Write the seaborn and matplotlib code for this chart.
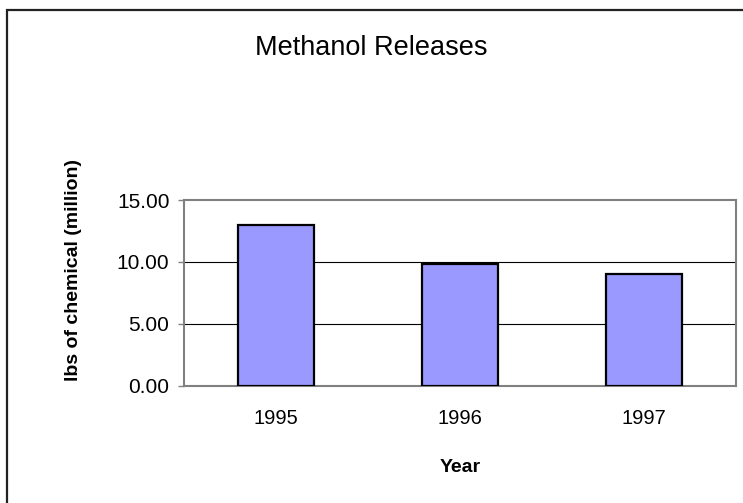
import matplotlib
matplotlib.use("Agg")
import matplotlib.pyplot as plt
import seaborn as sns
import pandas as pd
from matplotlib.patches import Rectangle

years = ["1995", "1996", "1997"]
releases = [13.0, 9.8, 9.0]
y_ticks = [0, 5, 10, 15]
y_tick_labels = ["0.00", "5.00", "10.00", "15.00"]

sns.set_theme(style="white")
plt.rcParams["font.family"] = ["Liberation Sans", "DejaVu Sans"]
plt.rcParams["text.color"] = "black"

W, H = 743, 503
fig = plt.figure(figsize=(W / 100, H / 100), dpi=100)
fig.patch.set_facecolor("white")

# chart frame (runs off the right and bottom edges)
fig.add_artist(Rectangle((7.5 / W, -0.1), 1.2, (H - 10) / H + 0.1,
                         transform=fig.transFigure, fill=False,
                         edgecolor="#222222", linewidth=1.6))

left, right, top, bottom = 184, 736, 200, 385.7
ax = fig.add_axes([left / W, (H - bottom) / H, (right - left) / W, (bottom - top) / H])

df = pd.DataFrame({"Year": years, "Releases": releases})
sns.barplot(data=df, x="Year", y="Releases", ax=ax, color="#9999FF",
            saturation=1, width=0.41, edgecolor="black", linewidth=1.6, zorder=3)

ax.set_ylim(0, 15)
ax.set_xlim(-0.5, 2.5)
ax.set_yticks(y_ticks)
ax.set_yticklabels(y_tick_labels, fontsize=15, color="black")
ax.tick_params(axis="x", labelsize=14.5, colors="black", length=0, pad=17)
ax.tick_params(axis="y", length=4, width=1, color="#808080", direction="out",
               left=True, pad=6.5)

for v in y_ticks[1:-1]:
    ax.axhline(v, color="black", linewidth=0.8, zorder=1)

for s in ax.spines.values():
    s.set_visible(True)
    s.set_color("#808080")
    s.set_linewidth(1.5)

ax.set_xlabel("")
ax.set_ylabel("")
fig.text((left + right) / 2 / W, 1 - 472 / H, "Year", ha="center", va="baseline",
         fontsize=14, fontweight="bold", color="black")
fig.text(73 / W, 1 - 270 / H, "lbs of chemical (million)", ha="center", va="center",
         rotation=90, fontsize=14, fontweight="bold", color="black")

fig.text(0.5, 1 - 55 / H, "Methanol Releases", ha="center", va="baseline",
         fontsize=19.5, color="black")

fig.savefig("out.png", dpi=100)
